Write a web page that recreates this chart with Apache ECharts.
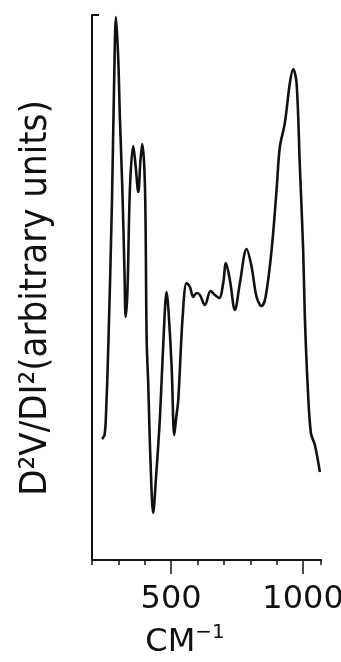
<!DOCTYPE html>
<html>
<head>
<meta charset="utf-8">
<script src="https://cdn.jsdelivr.net/npm/echarts@6/dist/echarts.min.js"></script>
<style>
  html, body { margin: 0; padding: 0; background: #fff; }
  #chart { width: 341px; height: 662px; }
</style>
</head>
<body>
<div id="chart"></div>
<script>
// Second-derivative tunnelling spectrum, d2V/dI2 against wavenumber (cm^-1)
const wavenumbers = [
  238, 247.4, 253, 262.5, 275.8, 283.3, 291, 299.6, 306, 314.8, 323, 327.7, 334.5,
  344, 356.4, 365, 375.4, 383.7, 390.5, 400.8, 407.2, 413, 421.6, 432, 442,
  457.6, 470.8, 483, 489.8, 501.9, 511.8, 518, 526.9, 543.6, 558.7, 571.2,
  583.7, 596.6, 609, 628, 649.6, 666, 682.2, 697.4, 707.6, 722.7, 741.7,
  760.6, 786, 805, 823.9, 842.8, 858, 880.7, 899.6, 912, 931, 950, 962.5,
  975.4, 987.9, 1000.4, 1006.8, 1017, 1029.6, 1044.7, 1063.7
];
const intensity = [
  121, 125, 145, 220, 360, 470, 543, 500, 440, 373, 290, 243, 270,
  373, 414, 395, 368, 400, 416, 373, 220, 177, 100, 47, 80,
  143, 220, 268, 250, 193, 125, 140, 160, 243, 277, 273,
  263, 267, 265, 255, 269, 265, 262, 277, 297, 280, 250,
  277, 311, 293, 263, 254, 263, 310, 370, 413, 437, 477, 491,
  477, 393, 310, 243, 177, 127, 115, 88
];
const majorTickLabels = [500, 1000];
const minorTickStep = 100;

const xMin = 200, xMax = 1068;
const yMin = 0, yMax = 545;

const points = wavenumbers.map((w, i) => [w, intensity[i]]);

const ink = '#111';
const font = 'DejaVu Sans';

const chart = echarts.init(document.getElementById('chart'), null, { renderer: 'canvas' });
chart.setOption({
  animation: false,
  backgroundColor: '#fff',
  grid: {
    left: 92, right: 20, top: 15, bottom: 102,
    containLabel: false, outerBoundsMode: 'none'
  },
  xAxis: [
    {
      type: 'value', min: xMin, max: xMax, interval: minorTickStep,
      position: 'bottom',
      axisLine: { show: true, lineStyle: { color: ink, width: 2 } },
      axisTick: { show: true, length: 5, lineStyle: { color: ink, width: 1.5 } },
      axisLabel: { show: false },
      splitLine: { show: false }
    },
    {
      type: 'value', min: xMin, max: xMax,
      position: 'bottom',
      axisLine: { show: false },
      axisTick: { show: true, length: 14, customValues: majorTickLabels, lineStyle: { color: ink, width: 1.5 } },
      axisLabel: {
        show: true, customValues: majorTickLabels, margin: 24,
        formatter: v => String(v),
        color: ink, fontFamily: font, fontSize: 32
      },
      splitLine: { show: false }
    }
  ],
  yAxis: {
    type: 'value', min: yMin, max: yMax,
    axisLine: { show: true, lineStyle: { color: ink, width: 2 } },
    axisTick: { show: true, inside: true, length: 7, customValues: [yMax], lineStyle: { color: ink, width: 2 } },
    axisLabel: { show: false },
    splitLine: { show: false }
  },
  graphic: [
    {
      type: 'text',
      x: 36, y: 298,
      rotation: Math.PI / 2,
      style: {
        text: 'D²V/DI²(arbitrary units)',
        fill: ink, font: '38px "DejaVu Sans Condensed"',
        align: 'center', verticalAlign: 'middle'
      }
    },
    {
      type: 'text',
      x: 185, y: 641,
      style: {
        text: '{m|CM}{s|−1}',
        fill: ink,
        align: 'center', verticalAlign: 'middle',
        rich: {
          m: { fontFamily: font, fontSize: 32, fill: ink, lineHeight: 36, verticalAlign: 'bottom' },
          s: { fontFamily: font, fontSize: 20, fill: ink, lineHeight: 36, verticalAlign: 'top', padding: [0, 0, 14, 0] }
        }
      }
    }
  ],
  series: [
    {
      type: 'line',
      xAxisIndex: 0,
      data: points,
      smooth: 0.35,
      symbol: 'none',
      lineStyle: { color: ink, width: 2.6 }
    }
  ]
});
</script>
</body>
</html>
